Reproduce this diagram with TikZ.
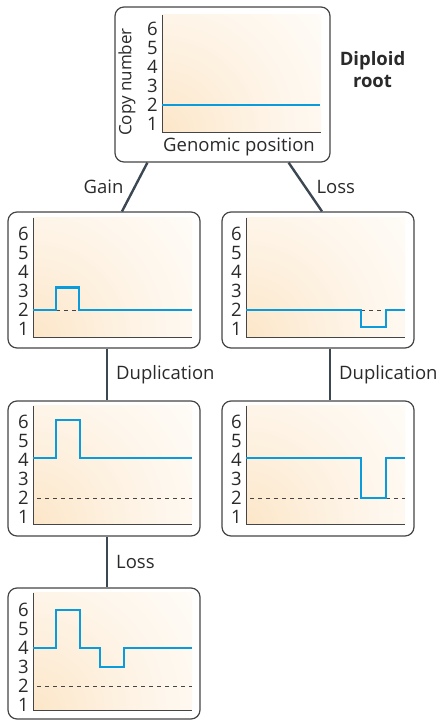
\documentclass[tikz,border=0pt]{standalone}
\usepackage{fontspec}
\setmainfont{Open Sans}
\usepackage{xcolor}
\definecolor{cnblue}{HTML}{0A9BDD}
\definecolor{boxgray}{HTML}{454545}
\definecolor{linkgray}{HTML}{3B4753}
\definecolor{cream}{HTML}{FCE6C8}
\definecolor{textgray}{HTML}{2A2A2A}
\usepackage{tikz}
\usetikzlibrary{positioning}

% pale corner glow behind each plot
\pgfdeclareradialshading{cnfade}{\pgfpoint{0bp}{0bp}}{%
  color(0bp)=(cream); color(5bp)=(cream!70!white); color(12bp)=(cream!35!white);
  color(20bp)=(cream!10!white); color(28bp)=(white); color(50bp)=(white)}

% axes, ticks and shading of one copy-number panel
% #1 axis x, #2 y of level 0, #3 level of the x axis, #4 top level, #5 plot
\newcommand{\cnpanel}[5]{%
  \begin{scope}[shift={(#1pt,-#2pt)}, x=1pt, y=19pt]
    \begin{scope}
      \clip (0,#3) rectangle (159,#4);
      \shade[shading=cnfade] (0,#3) circle (270pt);
    \end{scope}
    \draw[axisline] (0,#4) -- (0,#3) -- (159,#3);
    \foreach \n in {1,...,6}
      \node[tick] at (-3,\n) {\n};
    #5
  \end{scope}}

\begin{document}
\begin{tikzpicture}[
  x=1pt, y=-1pt,
  font=\fontsize{18.5}{20}\selectfont, text=textgray,
  panel/.style={rectangle, rounded corners=9pt, draw=boxgray, line width=1.2pt,
                fill=white, inner sep=0pt},
  axisline/.style={draw=boxgray, line width=0.8pt},
  tick/.style={anchor=east, inner sep=1pt},
  cnline/.style={draw=cnblue, line width=2.6pt, line join=miter},
  ploidy/.style={draw=boxgray, line width=0.7pt, dash pattern=on 4pt off 4pt},
  link/.style={draw=linkgray, line width=2.4pt},
  event/.style={inner sep=2pt},
]
\useasboundingbox (0,0) rectangle (443,721);

% boxes of the tree
\node[panel, minimum width=215pt, minimum height=155pt] (root)  at (222.5,84.5) {};
\node[panel, minimum width=192pt, minimum height=136pt] (gain)  at (104,280) {};
\node[panel, minimum width=192pt, minimum height=136pt] (loss)  at (318,280) {};
\node[panel, minimum width=192pt, minimum height=135pt] (dupl)  at (104,468.5) {};
\node[panel, minimum width=192pt, minimum height=135pt] (dupr)  at (318,468.5) {};
\node[panel, minimum width=192pt, minimum height=131pt] (final) at (104,653.5) {};

% branches
\draw[link] ([xshift=33pt]root.south west) -- ([xshift=18pt]gain.north)
  node[event, midway, left=8pt] {Gain};
\draw[link] ([xshift=-42pt]root.south east) -- ([xshift=4pt]loss.north)
  node[event, midway, right=8pt] {Loss};
\draw[link] ([xshift=3pt]gain.south) -- ([xshift=3pt]dupl.north)
  node[event, midway, right=6pt] {Duplication};
\draw[link] ([xshift=12pt]loss.south) -- ([xshift=12pt]dupr.north)
  node[event, midway, right=6pt] {Duplication};
\draw[link] ([xshift=3pt]dupl.south) -- ([xshift=3pt]final.north)
  node[event, midway, right=6pt] {Loss};

% diploid root
\cnpanel{162}{143}{0.58}{6.74}{%
  \draw[cnline] (0,2) -- (158,2);}
\node[rotate=90, font=\fontsize{17}{19}\selectfont] (ylabel) at (127,82) {Copy number};
\node (xlabel) at (239,147) {Genomic position};
\node[align=center, font=\fontsize{18.5}{22}\selectfont\bfseries] (rootlabel) at (372.5,70) {Diploid\\root};

% gain of one copy
\cnpanel{33}{348}{0.57}{6.85}{%
  \draw[ploidy] (23,2) -- (46,2);
  \draw[cnline] (0,2) -- (23,2) -- (23,3.2) -- (46,3.2) -- (46,2) -- (159,2);}

% loss of one copy
\cnpanel{246}{348}{0.57}{6.85}{%
  \draw[ploidy] (115,2) -- (140,2);
  \draw[cnline] (0,2) -- (115,2) -- (115,1.1) -- (140,1.1) -- (140,2) -- (159,2);}

% whole-genome duplication after the gain
\cnpanel{33}{536}{0.63}{6.85}{%
  \draw[ploidy] (4,2) -- (159,2);
  \draw[cnline] (0,4.1) -- (23,4.1) -- (23,6.1) -- (47,6.1) -- (47,4.1) -- (159,4.1);}

% whole-genome duplication after the loss
\cnpanel{246}{536}{0.63}{6.85}{%
  \draw[ploidy] (4,2) -- (159,2);
  \draw[cnline] (0,4.1) -- (115,4.1) -- (115,2) -- (140,2) -- (140,4.1) -- (159,4.1);}

% further loss
\cnpanel{33}{724}{0.74}{6.9}{%
  \draw[ploidy] (4,2) -- (159,2);
  \draw[cnline] (0,4) -- (23,4) -- (23,6) -- (47,6) -- (47,4) -- (67,4)
    -- (67,3) -- (91,3) -- (91,4) -- (159,4);}

\end{tikzpicture}
\end{document}
